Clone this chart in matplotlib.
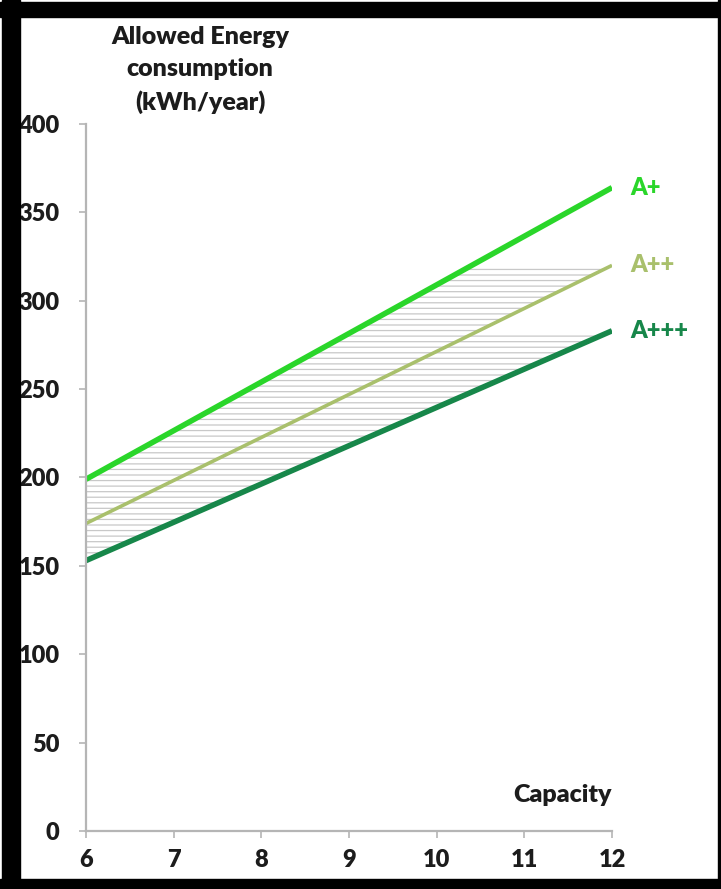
import matplotlib.pyplot as plt
from matplotlib.patches import Rectangle
import numpy as np

# capacity range and allowed consumption per class
capacity = [6, 12]
a_plus = [199, 364]
a_plus2 = [174, 320]
a_plus3 = [153, 283]
class_names = ['A+', 'A++', 'A+++']
class_colors = ['#2ad62a', '#a9c06c', '#17874a']
band_caps = [320, 282]

x_ticks = [6, 7, 8, 9, 10, 11, 12]
y_ticks = [0, 50, 100, 150, 200, 250, 300, 350, 400]

plt.rcParams['font.family'] = ['Lato', 'DejaVu Sans']
plt.rcParams['hatch.color'] = '#c8c8c8'
plt.rcParams['hatch.linewidth'] = 0.9

fig = plt.figure(figsize=(7.21, 8.89), dpi=100)
ax = fig.add_axes([86 / 721, 58 / 889, 526 / 721, 707 / 889])

xs = np.linspace(capacity[0], capacity[1], 200)
top = np.interp(xs, capacity, a_plus)
mid = np.interp(xs, capacity, a_plus2)
low = np.interp(xs, capacity, a_plus3)

# hatched bands, flattened where they exceed the caps
ax.fill_between(xs, mid, np.minimum(top, band_caps[0]), facecolor='none',
                edgecolor='#c8c8c8', hatch='---', linewidth=0)
ax.fill_between(xs, low, np.minimum(mid, band_caps[1]), facecolor='none',
                edgecolor='#c8c8c8', hatch='---', linewidth=0)

series = [a_plus, a_plus2, a_plus3]
widths = [4, 2.6, 4]
for vals, name, col, lw in zip(series, class_names, class_colors, widths):
    ax.plot(capacity, vals, color=col, lw=lw, solid_capstyle='butt')
    ax.annotate(name, xy=(capacity[1], vals[1]), xytext=(13, 0),
                textcoords='offset points', color=col, fontsize=17,
                fontweight='heavy', va='center', ha='left', annotation_clip=False)

ax.set_xlim(6, 12)
ax.set_ylim(0, 400)
ax.set_xticks(x_ticks)
ax.set_yticks(y_ticks)
for s in ['top', 'right']:
    ax.spines[s].set_visible(False)
for s in ['left', 'bottom']:
    ax.spines[s].set_color('#b5b5b5')
    ax.spines[s].set_linewidth(1.6)
ax.tick_params(colors='#b5b5b5', length=5, width=1.2, labelcolor='#1c1c1c',
               labelsize=17)
ax.tick_params(axis='y', pad=14)
ax.tick_params(axis='x', pad=8)
for lbl in ax.get_xticklabels() + ax.get_yticklabels():
    lbl.set_fontweight('heavy')

fig.text(200 / 721, 1 - 70 / 889, 'Allowed Energy\nconsumption\n(kWh/year)',
         ha='center', va='center', fontsize=18, fontweight='heavy',
         color='#1c1c1c', linespacing=1.55)
ax.text(12, 14, 'Capacity', ha='right', va='bottom', fontsize=18,
        fontweight='heavy', color='#1c1c1c', transform=ax.transData)

# black picture frame
frame = [(2, 0, 18, 889), (0, 2, 721, 15), (718, 0, 3, 889), (0, 879, 721, 10)]
for x0, y0, w, h in frame:
    fig.patches.append(Rectangle((x0 / 721, 1 - (y0 + h) / 889), w / 721, h / 889,
                                 transform=fig.transFigure, color='black',
                                 zorder=10))

fig.savefig('out.png', dpi=100)
